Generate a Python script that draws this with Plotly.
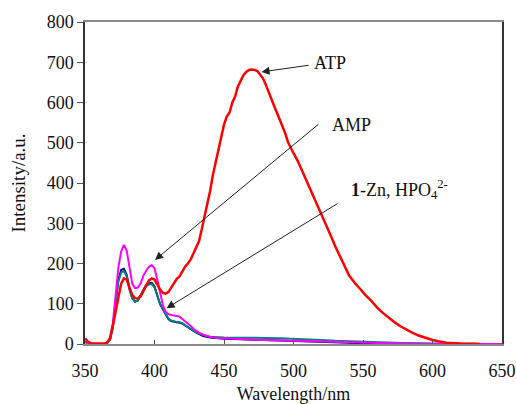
import plotly.graph_objects as go

# ATP (red)
atp_x = [350, 352, 355, 360, 364, 366, 368, 370, 372, 374, 376, 378, 380, 382, 384, 386, 388, 390, 392, 394, 396, 398, 400,
         402, 404, 406, 408, 410, 412, 414, 416, 418, 420, 422, 424, 426, 428, 430, 432, 434, 436, 438, 440, 442, 444, 446,
         448, 450, 452, 454, 456, 458, 460, 462, 464, 466, 468, 470, 472, 474, 476, 478, 480, 482, 484, 486, 488, 490, 492,
         494, 496, 498, 500, 503, 506, 509, 512, 515, 518, 521, 524, 527, 530, 533, 536, 540, 544, 548, 552, 556, 560, 564,
         568, 572, 576, 580, 585, 590, 595, 600, 605, 610, 620, 634]
atp_y = [14, 6, 1, 0, 1, 4, 15, 45, 80, 120, 150, 163, 160, 140, 122, 114, 113, 118, 132, 148, 158, 163, 160,
         148, 135, 127, 125, 129, 140, 152, 162, 168, 180, 192, 200, 210, 225, 240, 255, 285, 315, 350, 380, 420, 450, 485,
         515, 545, 565, 575, 600, 615, 640, 655, 668, 676, 681, 682, 681, 678, 670, 660, 645, 626, 608, 592, 575, 558, 541,
         524, 502, 486, 474, 455, 432, 408, 386, 364, 341, 316, 292, 268, 243, 221, 196, 170, 152, 136, 121, 107, 91, 78,
         66, 56, 46, 38, 29, 21, 15, 10, 6, 3, 1, 0]

# AMP (magenta)
amp_x = [350, 352, 355, 364, 366, 368, 370, 372, 374, 376, 378, 380, 382, 384, 386, 388, 390, 392, 394, 396, 398, 400,
         402, 404, 406, 408, 410, 412, 414, 416, 418, 420, 422, 424, 426, 428, 430, 432, 435, 440, 445, 450, 460, 470, 480,
         490, 500, 510, 520, 530, 540, 550, 560, 570, 580, 590, 650]
amp_y = [5, 2, 0, 0, 3, 12, 50, 120, 190, 230, 246, 232, 185, 150, 139, 140, 150, 170, 182, 192, 196, 188,
         160, 125, 97, 80, 74, 72, 71, 69, 68, 62, 57, 51, 45, 38, 32, 28, 23, 18, 15, 14, 12, 11, 10,
         9, 8, 7, 6, 5, 4, 4, 3, 2, 1, 0, 0]

# 1-Zn (teal)
zn_x = [350, 355, 364, 366, 368, 370, 372, 374, 376, 378, 380, 382, 384, 386, 388, 390, 392, 394, 396, 398, 400, 402,
        404, 406, 408, 410, 412, 414, 416, 418, 420, 422, 424, 426, 428, 430, 435, 440, 450, 460, 470, 480, 490, 500, 510,
        520, 530, 540, 550, 560, 570, 580, 590, 600]
zn_y = [5, 0, 0, 3, 10, 40, 100, 155, 178, 181, 168, 135, 113, 106, 108, 120, 135, 144, 148, 149, 141, 120,
        100, 88, 75, 63, 58, 56, 55, 54, 52, 47, 42, 37, 33, 29, 22, 18, 16, 16, 15, 15, 14, 13, 12,
        10, 8, 7, 6, 5, 4, 3, 1, 0]

# HPO4 2- (navy)
hpo_x = [350, 355, 364, 366, 368, 370, 372, 374, 376, 378, 380, 382, 384, 386, 388, 390, 392, 394, 396, 398, 400, 402,
         404, 406, 408, 410, 412, 414, 416, 418, 420, 422, 424, 426, 428, 430, 435, 440, 450, 460, 480, 500, 520, 550, 650]
hpo_y = [5, 0, 0, 3, 11, 42, 105, 160, 184, 187, 172, 138, 114, 105, 108, 121, 137, 147, 151, 152, 143, 121,
         99, 86, 73, 62, 57, 55, 54, 53, 51, 46, 41, 36, 32, 28, 20, 16, 13, 12, 10, 8, 5, 2, 0]

x_ticks = [350, 400, 450, 500, 550, 600, 650]
y_ticks = [0, 100, 200, 300, 400, 500, 600, 700, 800]

FONT = "Liberation Serif"

fig = go.Figure()
fig.add_trace(go.Scatter(x=hpo_x, y=hpo_y, mode="lines", line=dict(color="#000080", width=2)))
fig.add_trace(go.Scatter(x=zn_x, y=zn_y, mode="lines", line=dict(color="#008080", width=2)))
fig.add_trace(go.Scatter(x=amp_x, y=amp_y, mode="lines", line=dict(color="#FF00FF", width=2)))
fig.add_trace(go.Scatter(x=atp_x, y=atp_y, mode="lines", line=dict(color="#FF0000", width=2.5)))

arrows = [
    dict(x=477, y=676, ax=512, ay=693),
    dict(x=400.4, y=209, ax=519, ay=549),
    dict(x=408.7, y=89, ax=532.7, ay=351),
]
for a in arrows:
    fig.add_annotation(x=a["x"], y=a["y"], ax=a["ax"], ay=a["ay"], xref="x", yref="y", axref="x", ayref="y",
                       text="", showarrow=True, arrowhead=2, arrowsize=1.6, arrowwidth=1, arrowcolor="#222222",
                       standoff=0)

labels = [
    dict(x=526.5, y=698, text="ATP"),
    dict(x=542, y=544, text="AMP"),
    dict(x=576, y=383, text="<b>1</b>-Zn, HPO<sub>4</sub><sup>2-</sup>"),
]
for l in labels:
    fig.add_annotation(x=l["x"], y=l["y"], xref="x", yref="y", text=l["text"], showarrow=False,
                       font=dict(family=FONT, size=18, color="#111111"))

fig.update_layout(
    width=516, height=404,
    margin=dict(l=85, r=14, t=22, b=60),
    paper_bgcolor="white", plot_bgcolor="white",
    showlegend=False,
    font=dict(family=FONT, size=18, color="#111111"),
)
fig.update_xaxes(range=[350, 650], tickvals=x_ticks, showgrid=False, zeroline=False, automargin=False,
                 showline=True, linecolor="#8a8a8a", linewidth=1.5, mirror=True,
                 ticks="inside", ticklen=4, tickcolor="#555555", ticklabelstandoff=10,
                 tickfont=dict(family=FONT, size=18),
                 title=dict(text="Wavelength/nm", font=dict(family=FONT, size=18), standoff=9))
fig.update_yaxes(range=[0, 800], tickvals=y_ticks, showgrid=False, zeroline=False, automargin=False,
                 showline=True, linecolor="#333333", linewidth=1.5, mirror=True,
                 ticks="outside", ticklen=6, tickcolor="#555555",
                 tickfont=dict(family=FONT, size=18),
                 title=dict(text="Intensity/a.u.", font=dict(family=FONT, size=19), standoff=16))

fig.write_html("out.html", config={"displayModeBar": False},
               post_script="document.body.style.margin='0';document.body.style.overflow='hidden';")
